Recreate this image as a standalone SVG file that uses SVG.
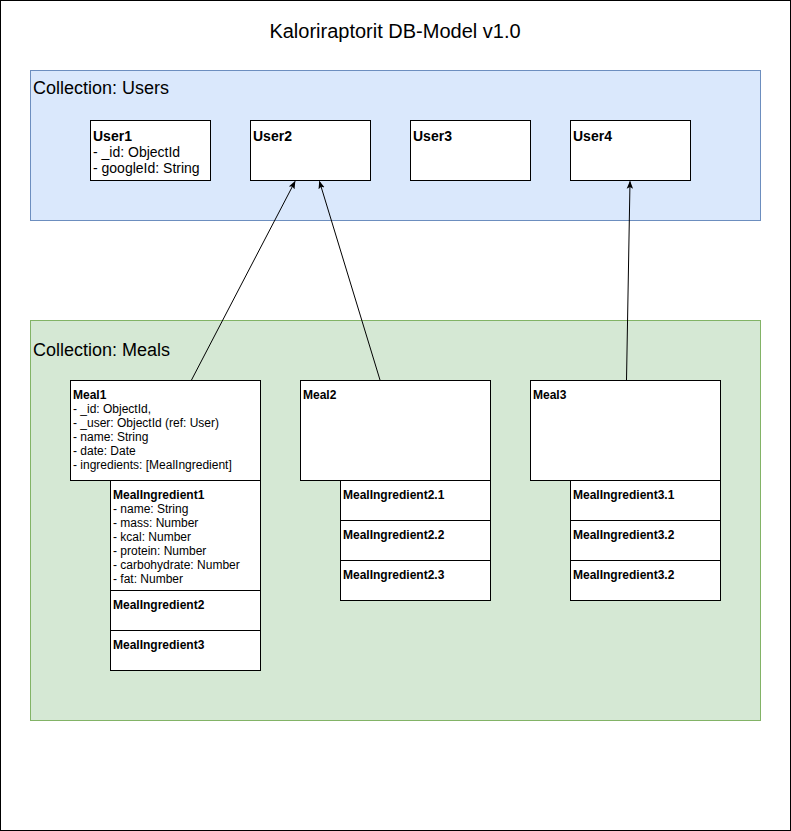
<svg xmlns="http://www.w3.org/2000/svg" width="791" height="831" viewBox="0 0 791 831">
<style>
text{font-family:"Liberation Sans",Arial,sans-serif;fill:#000}
.box{fill:#fff;stroke:#000;stroke-width:1}
.t14{font-size:14px}
.t12{font-size:12px}
.b{font-weight:bold}
.conn{stroke:#000;stroke-width:1;fill:none}
</style>
<defs>
<marker id="arr" viewBox="0 0 10 10" refX="9" refY="5" markerWidth="8" markerHeight="8" markerUnits="userSpaceOnUse" orient="auto">
<path d="M0,1 L10,5 L0,9 L2,5 Z" fill="#000"/>
</marker>
</defs>
<rect x="0.5" y="0.5" width="790" height="830" fill="#fff" stroke="#000"/>
<text x="395" y="38" font-size="20" text-anchor="middle">Kaloriraptorit DB-Model v1.0</text>

<g id="users">
<rect x="30.5" y="70.5" width="730" height="150" fill="#dae8fc" stroke="#6c8ebf"/>
<text x="33" y="94" font-size="18">Collection: Users</text>
</g>
<g id="user1"><rect class="box" x="90.5" y="120.5" width="120" height="60"/>
<text x="93" y="141" class="t14 b">User1</text>
<text x="93" y="157" class="t14">- _id: ObjectId</text>
<text x="93" y="173" class="t14">- googleId: String</text></g>
<g id="user2"><rect class="box" x="250.5" y="120.5" width="120" height="60"/><text x="253" y="141" class="t14 b">User2</text></g>
<g id="user3"><rect class="box" x="410.5" y="120.5" width="120" height="60"/><text x="413" y="141" class="t14 b">User3</text></g>
<g id="user4"><rect class="box" x="570.5" y="120.5" width="120" height="60"/><text x="573" y="141" class="t14 b">User4</text></g>

<g id="meals">
<rect x="30.5" y="320.5" width="730" height="400" fill="#d5e8d4" stroke="#82b366"/>
<text x="33" y="356" font-size="18">Collection: Meals</text>
</g>

<g id="meal1"><rect class="box" x="70.5" y="380.5" width="190" height="100"/>
<text x="73" y="399" class="t12 b">Meal1</text>
<text x="73" y="413" class="t12">- _id: ObjectId,</text>
<text x="73" y="427" class="t12">- _user: ObjectId (ref: User)</text>
<text x="73" y="441" class="t12">- name: String</text>
<text x="73" y="455" class="t12">- date: Date</text>
<text x="73" y="469" class="t12">- ingredients: [MealIngredient]</text></g>
<g id="mi1"><rect class="box" x="110.5" y="480.5" width="150" height="110"/>
<text x="113" y="499" class="t12 b">MealIngredient1</text>
<text x="113" y="513" class="t12">- name: String</text>
<text x="113" y="527" class="t12">- mass: Number</text>
<text x="113" y="541" class="t12">- kcal: Number</text>
<text x="113" y="555" class="t12">- protein: Number</text>
<text x="113" y="569" class="t12">- carbohydrate: Number</text>
<text x="113" y="583" class="t12">- fat: Number</text></g>
<g id="mi2"><rect class="box" x="110.5" y="590.5" width="150" height="40"/><text x="113" y="609" class="t12 b">MealIngredient2</text></g>
<g id="mi3"><rect class="box" x="110.5" y="630.5" width="150" height="40"/><text x="113" y="649" class="t12 b">MealIngredient3</text></g>

<g id="meal2"><rect class="box" x="300.5" y="380.5" width="190" height="100"/><text x="303" y="399" class="t12 b">Meal2</text></g>
<g id="mi21"><rect class="box" x="340.5" y="480.5" width="150" height="40"/><text x="343" y="499" class="t12 b">MealIngredient2.1</text></g>
<g id="mi22"><rect class="box" x="340.5" y="520.5" width="150" height="40"/><text x="343" y="539" class="t12 b">MealIngredient2.2</text></g>
<g id="mi23"><rect class="box" x="340.5" y="560.5" width="150" height="40"/><text x="343" y="579" class="t12 b">MealIngredient2.3</text></g>

<g id="meal3"><rect class="box" x="530.5" y="380.5" width="190" height="100"/><text x="533" y="399" class="t12 b">Meal3</text></g>
<g id="mi31"><rect class="box" x="570.5" y="480.5" width="150" height="40"/><text x="573" y="499" class="t12 b">MealIngredient3.1</text></g>
<g id="mi32"><rect class="box" x="570.5" y="520.5" width="150" height="40"/><text x="573" y="539" class="t12 b">MealIngredient3.2</text></g>
<g id="mi33"><rect class="box" x="570.5" y="560.5" width="150" height="40"/><text x="573" y="579" class="t12 b">MealIngredient3.2</text></g>

<g id="connectors">
<line class="conn" x1="191.5" y1="380" x2="295" y2="181.5" marker-end="url(#arr)"/>
<line class="conn" x1="380" y1="380" x2="319.5" y2="181.5" marker-end="url(#arr)"/>
<line class="conn" x1="626.5" y1="380" x2="630" y2="181.5" marker-end="url(#arr)"/>
</g>
</svg>
